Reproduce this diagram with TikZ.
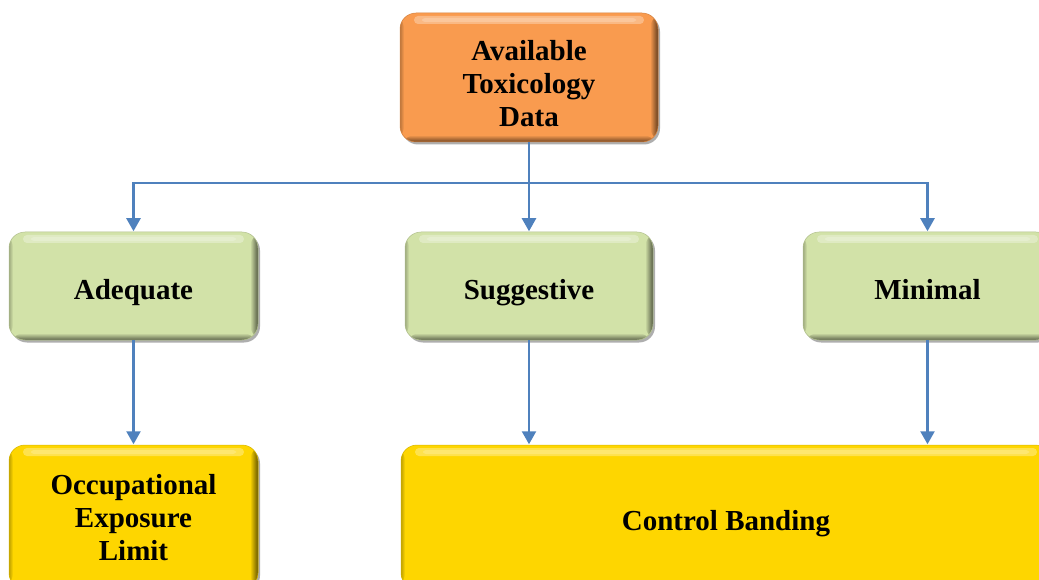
\documentclass[tikz,border=0pt]{standalone}
\usepackage{fontspec}
\setmainfont{Liberation Serif}
\usetikzlibrary{arrows.meta,shadows}
\definecolor{orangebox}{HTML}{F99B4F}
\definecolor{greenbox}{HTML}{D2E2A8}
\definecolor{yellowbox}{HTML}{FED600}
\definecolor{linkblue}{HTML}{4F81BD}
\tikzset{
  % rounded box with a soft bevel: highlight along the top, darker right and bottom rims
  bevel/.style={rounded corners=16pt, fill=#1, draw=#1!85!black, line width=0.5pt,
    drop shadow={shadow xshift=2pt, shadow yshift=-2.5pt, opacity=0.45, fill=black!70},
    inner sep=0pt,
    path picture={
      \coordinate (nw) at (path picture bounding box.north west);
      \coordinate (se) at (path picture bounding box.south east);
      \shade[left color=#1!75!black, right color=#1] (nw) rectangle ([xshift=4pt]nw |- se);
      \shade[left color=#1, right color=#1!40!black] ([xshift=-8pt]se |- nw) rectangle (se);
      \shade[top color=#1, bottom color=#1!45!black] ([yshift=7pt]nw |- se) rectangle (se);
      \fill[white, opacity=0.3, rounded corners=4pt]
        ([xshift=14pt,yshift=-3pt]nw) rectangle ([xshift=-14pt,yshift=-11pt]se |- nw);
      \fill[white, opacity=0.2, rounded corners=3pt]
        ([xshift=22pt,yshift=-5pt]nw) rectangle ([xshift=-22pt,yshift=-9pt]se |- nw);
    }},
  boxtext/.style={font=\fontsize{29}{33}\selectfont\bfseries, align=center},
  multitext/.style={boxtext, yshift=-#1},
  singletext/.style={boxtext, text height=20pt, text depth=6pt, yshift=-6pt},
  topbox/.style={bevel=orangebox},
  midbox/.style={bevel=greenbox},
  lowbox/.style={bevel=yellowbox},
  link/.style={draw=linkblue, line width=2.4pt},
  arrowlink/.style={link, -{Triangle[width=14pt,length=13pt]}, shorten >=0.5pt},
}
\begin{document}
\begin{tikzpicture}[x=1pt,y=-1pt]
\useasboundingbox (0,0) rectangle (1039,580);
\clip (0,0) rectangle (1039,580);
% boxes, each with its caption centred a little below the middle
\node[topbox, minimum width=258pt, minimum height=129pt,
  label={[multitext=6pt]center:{Available\\Toxicology\\Data}}] (avail) at (529,77.5) {};
\node[midbox, minimum width=249pt, minimum height=108pt,
  label={[singletext]center:Adequate}] (adeq) at (133.5,286) {};
\node[midbox, minimum width=248pt, minimum height=108pt,
  label={[singletext]center:Suggestive}] (sugg) at (529,286) {};
\node[midbox, minimum width=249pt, minimum height=108pt,
  label={[singletext]center:Minimal}] (mini) at (927.5,286) {};
\node[lowbox, minimum width=249pt, minimum height=144pt,
  label={[multitext=1pt]center:{Occupational\\Exposure\\Limit}}] (oel) at (133.5,517) {};
\node[lowbox, minimum width=650pt, minimum height=144pt,
  label={[singletext]center:Control Banding}] (cb) at (726,517) {};
% connectors
\coordinate (bus) at (529,183);
\draw[link] (avail.south) -- (bus);
\draw[arrowlink] (bus) -| (adeq.north);
\draw[arrowlink] (bus) -- (sugg.north);
\draw[arrowlink] (bus) -| (mini.north);
\draw[arrowlink] (adeq.south) -- (oel.north);
\draw[arrowlink] (sugg.south) -- (sugg.south |- cb.north);
\draw[arrowlink] (mini.south) -- (mini.south |- cb.north);
\end{tikzpicture}
\end{document}
